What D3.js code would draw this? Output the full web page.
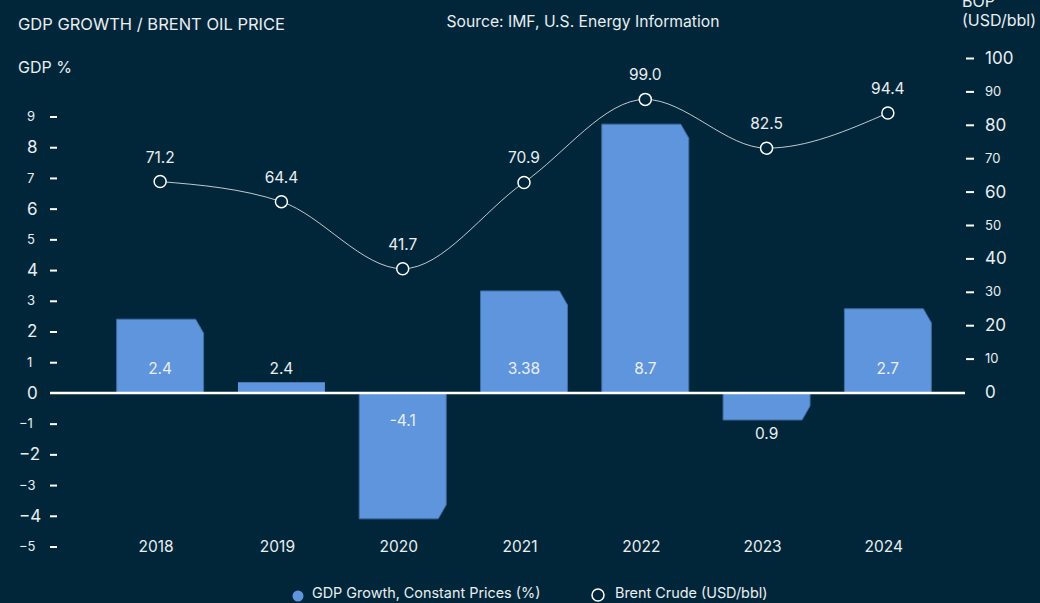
<!DOCTYPE html>
<html>
<head>
<meta charset="utf-8">
<script src="https://cdn.jsdelivr.net/npm/d3@7"></script>
<style>
  body { margin: 0; background: #022639; }
  svg { display: block; font-family: Inter, "Noto Sans", sans-serif; }
  text { fill: #e9eef2; }
</style>
</head>
<body>
<div id="chart"></div>
<script>
var svgWidth = 1040;
var svgHeight = 603;

// chart data
var years = ["2018", "2019", "2020", "2021", "2022", "2023", "2024"];
var gdpValues = [2.4, 0.35, -4.1, 3.32, 8.75, -0.88, 2.74];
var gdpLabels = ["2.4", "2.4", "-4.1", "3.38", "8.7", "0.9", "2.7"];
var brentValues = [71.2, 64.4, 41.7, 70.9, 99.0, 82.5, 94.4];
var brentLabels = ["71.2", "64.4", "41.7", "70.9", "99.0", "82.5", "94.4"];
var gdpTicks = [9, 8, 7, 6, 5, 4, 3, 2, 1, 0, -1, -2, -3, -4, -5];
var oilTicks = [100, 90, 80, 70, 60, 50, 40, 30, 20, 10, 0];

var barColor = "#5f95dc";
var textColor = "#e9eef2";
var bgColor = "#022639";

var svg = d3.select("#chart")
    .append("svg")
    .attr("width", svgWidth)
    .attr("height", svgHeight);

// scales
var x = d3.scaleBand()
    .domain(years)
    .range([99.5, 948.5])
    .paddingInner(0.283)
    .paddingOuter(0.1415);

var yLeft = d3.scaleLinear()
    .domain([-5, 9])
    .range([546.5, 116.5]);

var yRight = d3.scaleLinear()
    .domain([0, 100])
    .range([392, 58]);

// the line is plotted on its own stretch of the right axis
var yLine = d3.scaleLinear()
    .domain([0, 113])
    .range([392, 58]);

function cx(i) { return x(years[i]) + x.bandwidth() / 2; }

// titles
svg.append("text").attr("x", 18).attr("y", 30)
    .style("font-size", "16.5px").text("GDP GROWTH / BRENT OIL PRICE");
svg.append("text").attr("x", 18).attr("y", 73)
    .style("font-size", "16px").text("GDP %");
svg.append("text").attr("x", 583).attr("y", 27)
    .attr("text-anchor", "middle")
    .style("font-size", "15.7px").text("Source: IMF, U.S. Energy Information");
svg.append("text").attr("x", 962).attr("y", 7)
    .style("font-size", "16px").text("BOP");
svg.append("text").attr("x", 962).attr("y", 26)
    .style("font-size", "16px").text("(USD/bbl)");

// left axis
var leftAxis = d3.axisLeft(yLeft).tickValues(gdpTicks).tickSize(7).tickFormat(d3.format("d"));
var gl = svg.append("g")
    .attr("transform", "translate(57,0)")
    .call(leftAxis);
gl.select(".domain").remove();
gl.selectAll(".tick line")
    .attr("stroke", "#ffffff")
    .attr("stroke-width", 2)
    .filter(d => d === 0).remove();
gl.selectAll(".tick text")
    .attr("text-anchor", "start")
    .attr("x", d => d < 0 ? -38 : -30)
    .attr("fill", textColor)
    .style("font-family", "Inter, sans-serif")
    .style("font-size", d => Math.abs(d) % 2 === 0 ? "17px" : "13px");

// right axis
var rightAxis = d3.axisRight(yRight).tickValues(oilTicks).tickSize(8);
var gr = svg.append("g")
    .attr("transform", "translate(966,0)")
    .call(rightAxis);
gr.select(".domain").remove();
gr.selectAll(".tick line")
    .attr("stroke", "#ffffff")
    .attr("stroke-width", 2)
    .filter(d => d === 0).remove();
gr.selectAll(".tick text")
    .attr("x", 19)
    .attr("fill", textColor)
    .style("font-family", "Inter, sans-serif")
    .style("font-size", d => (d / 10) % 2 === 0 ? "17px" : "13px");

// bars with a clipped outer corner (tiny positive bars stay square)
var cut = 8, cutH = 14;
function barPath(v, i) {
    var x0 = x(years[i]), x1 = x0 + x.bandwidth();
    var y0 = yLeft(0), y1 = yLeft(v);
    var dir = v >= 0 ? 1 : -1;
    var h = Math.abs(y0 - y1);
    if (v > 0 && h < 20) {
        return "M" + x0 + "," + y0 + "L" + x0 + "," + y1 + "L" + x1 + "," + y1 + "L" + x1 + "," + y0 + "Z";
    }
    h = Math.min(cutH, h);
    return "M" + x0 + "," + y0 +
        "L" + x0 + "," + y1 +
        "L" + (x1 - cut) + "," + y1 +
        "L" + x1 + "," + (y1 + dir * h) +
        "L" + x1 + "," + y0 + "Z";
}

svg.selectAll("path.bar")
    .data(gdpValues)
    .enter()
    .append("path")
    .attr("class", "bar")
    .attr("d", (d, i) => barPath(d, i))
    .attr("fill", barColor)
    .attr("stroke", d => Math.abs(yLeft(d) - yLeft(0)) < 20 && d > 0 ? "none" : "#3f6fa8")
    .attr("stroke-width", 1);

// zero line
svg.append("line")
    .attr("x1", 50).attr("x2", 965)
    .attr("y1", yLeft(0)).attr("y2", yLeft(0))
    .attr("stroke", "#ffffff")
    .attr("stroke-width", 2.5);

// bar labels
svg.selectAll("text.barlabel")
    .data(gdpValues)
    .enter()
    .append("text")
    .attr("class", "barlabel")
    .attr("x", (d, i) => cx(i))
    .attr("y", d => {
        if (d >= 0) return yLeft(0) - 19;
        return Math.abs(yLeft(d) - yLeft(0)) > 40 ? yLeft(0) + 33 : yLeft(d) + 19;
    })
    .attr("text-anchor", "middle")
    .style("font-size", "15.5px")
    .text((d, i) => gdpLabels[i]);

// year labels
svg.selectAll("text.year")
    .data(years)
    .enter()
    .append("text")
    .attr("class", "year")
    .attr("x", (d, i) => cx(i) - 4)
    .attr("y", 552)
    .attr("text-anchor", "middle")
    .style("font-size", "15.5px")
    .text(d => d);

// brent line
var line = d3.line()
    .x((d, i) => cx(i))
    .y(d => yLine(d))
    .curve(d3.curveMonotoneX);

svg.append("path")
    .datum(brentValues)
    .attr("d", line)
    .attr("fill", "none")
    .attr("stroke", "#ffffff")
    .attr("stroke-opacity", 0.75)
    .attr("stroke-width", 1);

svg.selectAll("circle.pt")
    .data(brentValues)
    .enter()
    .append("circle")
    .attr("class", "pt")
    .attr("cx", (d, i) => cx(i))
    .attr("cy", d => yLine(d))
    .attr("r", 6)
    .attr("fill", bgColor)
    .attr("stroke", "#ffffff")
    .attr("stroke-width", 1.5);

svg.selectAll("text.ptlabel")
    .data(brentValues)
    .enter()
    .append("text")
    .attr("class", "ptlabel")
    .attr("x", (d, i) => cx(i))
    .attr("y", d => yLine(d) - 19)
    .attr("text-anchor", "middle")
    .style("font-size", "15.5px")
    .text((d, i) => brentLabels[i]);

// legend
svg.append("circle").attr("cx", 298).attr("cy", 596).attr("r", 5.5).attr("fill", barColor);
svg.append("text").attr("x", 312).attr("y", 598)
    .style("font-size", "14.4px").text("GDP Growth, Constant Prices (%)");
svg.append("circle").attr("cx", 598).attr("cy", 595).attr("r", 6)
    .attr("fill", "none").attr("stroke", "#ffffff").attr("stroke-width", 1.5);
svg.append("text").attr("x", 615).attr("y", 598)
    .style("font-size", "14.4px").text("Brent Crude (USD/bbl)");
</script>
</body>
</html>
